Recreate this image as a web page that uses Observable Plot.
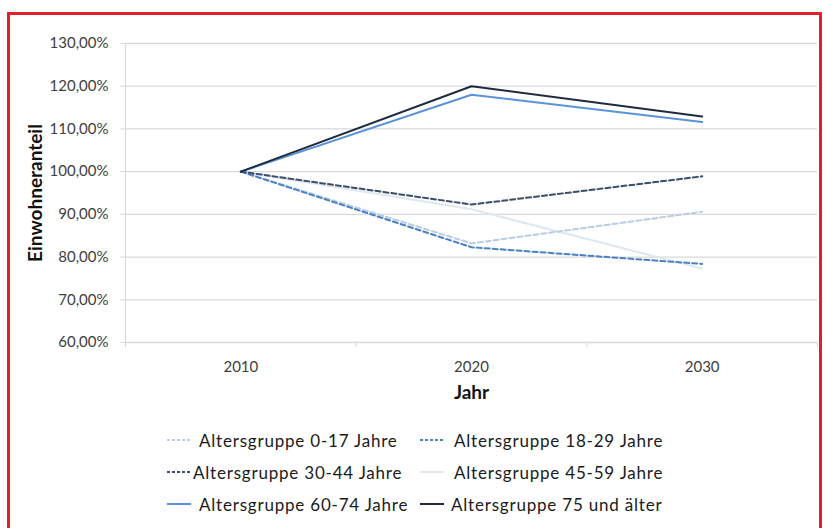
<!DOCTYPE html>
<html><head><meta charset="utf-8">
<script src="https://cdn.jsdelivr.net/npm/d3@7"></script>
<script src="https://cdn.jsdelivr.net/npm/@observablehq/plot@0.6"></script>
<style>
body{margin:0;background:#fff;font-family:Lato,"Open Sans",sans-serif;}
#wrap{position:relative;width:825px;height:528px;overflow:hidden;}
#border{position:absolute;left:7px;top:12px;width:809px;height:530px;border:3px solid #e3202a;}
#chart{position:absolute;left:0;top:0;}
.item{position:absolute;display:flex;align-items:center;font-size:17px;letter-spacing:0.8px;color:#1a1a1a;white-space:nowrap;}
.item svg{display:block;}
</style></head>
<body>
<div id="wrap"><div id="border"></div><div id="chart"></div><div id="legend"></div></div>
<script>
const years = [2010, 2020, 2030];
const groups = ["Altersgruppe 0-17 Jahre","Altersgruppe 18-29 Jahre","Altersgruppe 30-44 Jahre","Altersgruppe 45-59 Jahre","Altersgruppe 60-74 Jahre","Altersgruppe 75 und älter"];
const g0_17  = [100, 83.2, 90.6];
const g18_29 = [100, 82.3, 78.4];
const g30_44 = [100, 92.3, 98.9];
const g45_59 = [100, 91.2, 77.3];
const g60_74 = [100, 118.0, 111.6];
const g75    = [100, 120.0, 112.9];
const colors = ["#b9cde5","#4a80c4","#3a4d6a","#dfe7f1","#5a93da","#1f2b3c"];
const dashes = ["5,3","5,3","5,3",null,null,null];
const yTicks = [60,70,80,90,100,110,120,130];
const xTickLabels = ["2010","2020","2030"];

const series = [g0_17,g18_29,g30_44,g45_59,g60_74,g75];
const data = [];
series.forEach((vals,i)=>vals.forEach((v,j)=>data.push({group:groups[i], year:years[j], value:v})));

const fmt = d => d.toFixed(2).replace(".", ",") + "%";
const order = [3,0,1,2,4,5];

const marks = [
  Plot.ruleY(yTicks, {stroke:"#d9d9d9", strokeWidth:1.3}),
  Plot.ruleX([2005], {stroke:"#d9d9d9", strokeWidth:1.3}),
  Plot.axisY({ticks:yTicks, tickSize:5, tickPadding:12, stroke:"#d9d9d9", tickFormat:fmt, fontSize:15, fill:"#404040", label:null}),
  Plot.axisX({ticks:[2005,2015,2025,2035], tickSize:5, stroke:"#d9d9d9", tickFormat:()=>"", label:null}),
  Plot.axisX({ticks:years, tickSize:0, tickPadding:19, tickFormat:(d,i)=>xTickLabels[i], fontSize:15, fill:"#404040", label:null}),
  ...order.map(i => Plot.line(data.filter(d=>d.group===groups[i]), {x:"year", y:"value", stroke:colors[i], strokeWidth:2, strokeDasharray:dashes[i] || undefined})),
  Plot.text(["Einwohneranteil"], {frameAnchor:"left", dx:-90, rotate:-90, textAnchor:"middle", lineAnchor:"middle", fontSize:19, fontWeight:"bold", fill:"#111", style:"letter-spacing:0.3px"}),
  Plot.text(["Jahr"], {frameAnchor:"bottom", dy:50, textAnchor:"middle", lineAnchor:"middle", fontSize:19, fontWeight:"bold", fill:"#111"})
];

const chart = Plot.plot({
  width:825, height:405,
  marginLeft:125, marginRight:8, marginTop:43, marginBottom:63,
  style:{fontFamily:"Lato, 'Open Sans', sans-serif", background:"transparent"},
  x:{domain:[2005,2035]},
  y:{domain:[60,130]},
  marks
});
document.getElementById("chart").appendChild(chart);

// legend
const legPos = [[167,440],[420,440],[167,472],[420,472],[167,504],[420,504]];
const textGap = [8,10,2,10,8,7];
const leg = document.getElementById("legend");
groups.forEach((g,i)=>{
  const d = document.createElement("div");
  d.className="item";
  d.style.left = legPos[i][0]+"px";
  d.style.top = (legPos[i][1]-11)+"px";
  d.style.height="22px";
  const ns="http://www.w3.org/2000/svg";
  const s=document.createElementNS(ns,"svg");
  s.setAttribute("width","24"); s.setAttribute("height","6");
  const l=document.createElementNS(ns,"line");
  l.setAttribute("x1","0");l.setAttribute("x2","24");l.setAttribute("y1","3");l.setAttribute("y2","3");
  l.setAttribute("stroke",colors[i]);l.setAttribute("stroke-width","2");
  if(dashes[i]) l.setAttribute("stroke-dasharray","3,2");
  s.appendChild(l);
  d.appendChild(s);
  const t=document.createElement("span");
  t.textContent=g; t.style.marginLeft=textGap[i]+"px";
  d.appendChild(t);
  leg.appendChild(d);
});
</script>
</body></html>
